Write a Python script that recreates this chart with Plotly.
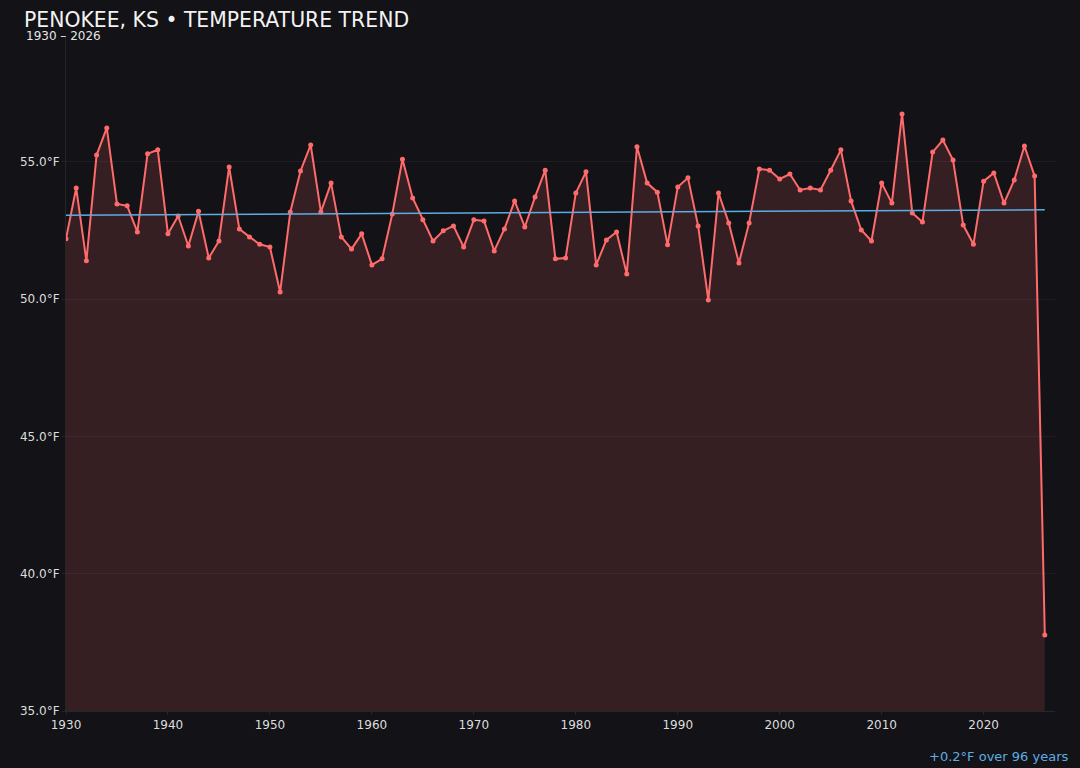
import numpy as np
import plotly.graph_objs as go

# annual mean temperature
years = list(range(1930, 2027))
temps = [
    52.2, 54.05, 51.4, 55.25, 56.24, 53.47, 53.4, 52.45, 55.3, 55.44,   # 1930s
    52.38, 53.03, 51.94, 53.2, 51.5, 52.12, 54.82, 52.56, 52.27, 52.0,  # 1940s
    51.9, 50.26, 53.18, 54.67, 55.62, 53.18, 54.23, 52.27, 51.83, 52.38,  # 1950s
    51.25, 51.47, 53.1, 55.1, 53.69, 52.89, 52.12, 52.49, 52.67, 51.9,  # 1960s
    52.89, 52.85, 51.76, 52.56, 53.58, 52.63, 53.72, 54.7, 51.47, 51.5,  # 1970s
    53.87, 54.64, 51.25, 52.16, 52.45, 50.92, 55.55, 54.23, 53.9, 51.98,  # 1980s
    54.09, 54.42, 52.67, 49.97, 53.87, 52.78, 51.32, 52.78, 54.74, 54.7,  # 1990s
    54.38, 54.56, 53.98, 54.05, 53.98, 54.7, 55.44, 53.58, 52.52, 52.12,  # 2000s
    54.23, 53.5, 56.75, 53.14, 52.81, 55.36, 55.8, 55.07, 52.7, 52.0,  # 2010s
    54.3, 54.6, 53.5, 54.34, 55.58, 54.49, 37.77,  # 2020s
]
y_ticks = [35, 40, 45, 50, 55]
x_ticks = [1930, 1940, 1950, 1960, 1970, 1980, 1990, 2000, 2010, 2020]

# linear trend over the whole record
slope, intercept = np.polyfit(years, temps, 1)
trend = [slope * yr + intercept for yr in years]

bg = "#131217"
red = "#ff6b6b"
blue = "#5dade2"
font = "DejaVu Sans"

fig = go.Figure()
fig.add_trace(go.Scatter(
    x=years, y=temps, mode="lines+markers",
    line=dict(color=red, width=2),
    marker=dict(color=red, size=5),
    fill="tozeroy", fillcolor="rgba(255,107,107,0.15)",
    showlegend=False, hoverinfo="x+y",
))
fig.add_trace(go.Scatter(
    x=years, y=trend, mode="lines",
    line=dict(color=blue, width=1.5),
    showlegend=False, hoverinfo="skip",
))

fig.update_layout(
    width=1080, height=768,
    paper_bgcolor=bg, plot_bgcolor=bg,
    margin=dict(l=66, r=25, t=36, b=57),
    font=dict(family=font, color="#dddddd", size=12),
    title=dict(
        text="PENOKEE, KS • TEMPERATURE TREND",
        font=dict(family=font, size=20.4, color="#f2f2f2"),
        x=24 / 1080, xref="container", xanchor="left",
        y=1 - 20 / 768, yref="container", yanchor="middle",
    ),
    annotations=[
        dict(text="1930 – 2026", xref="paper", yref="paper",
             x=(24 - 66) / 989, y=(711 - 36) / 675,
             xanchor="left", yanchor="middle", showarrow=False,
             font=dict(family=font, size=12, color="#e6e6e6")),
        dict(text="+0.2°F over 96 years", xref="paper", yref="paper",
             x=(1070 - 66) / 989, y=(711 - 756) / 675,
             xanchor="right", yanchor="middle", showarrow=False,
             font=dict(family=font, size=13, color=blue)),
    ],
)
fig.update_xaxes(
    range=[1930, 2027], tickvals=x_ticks,
    showgrid=False, zeroline=False,
    showline=True, linecolor="#26252b", linewidth=1,
    ticks="outside", ticklen=3, tickcolor="#26252b",
    tickfont=dict(color="#dddddd", size=12),
)
fig.update_yaxes(
    range=[35, max(temps) * 1.05], tickvals=y_ticks,
    ticktext=[f"{v:.1f}°F" for v in y_ticks],
    showgrid=True, gridcolor="#1f1d23", gridwidth=1,
    zeroline=False,
    showline=True, linecolor="#26252b", linewidth=1,
    ticks="outside", ticklen=3, tickcolor="#26252b",
    tickfont=dict(color="#dddddd", size=12),
)

# drop the browser's default body margin so the figure sits at the page corner
fig.write_html("out.html", config={"displayModeBar": False},
               post_script="document.body.style.margin='0px';")
